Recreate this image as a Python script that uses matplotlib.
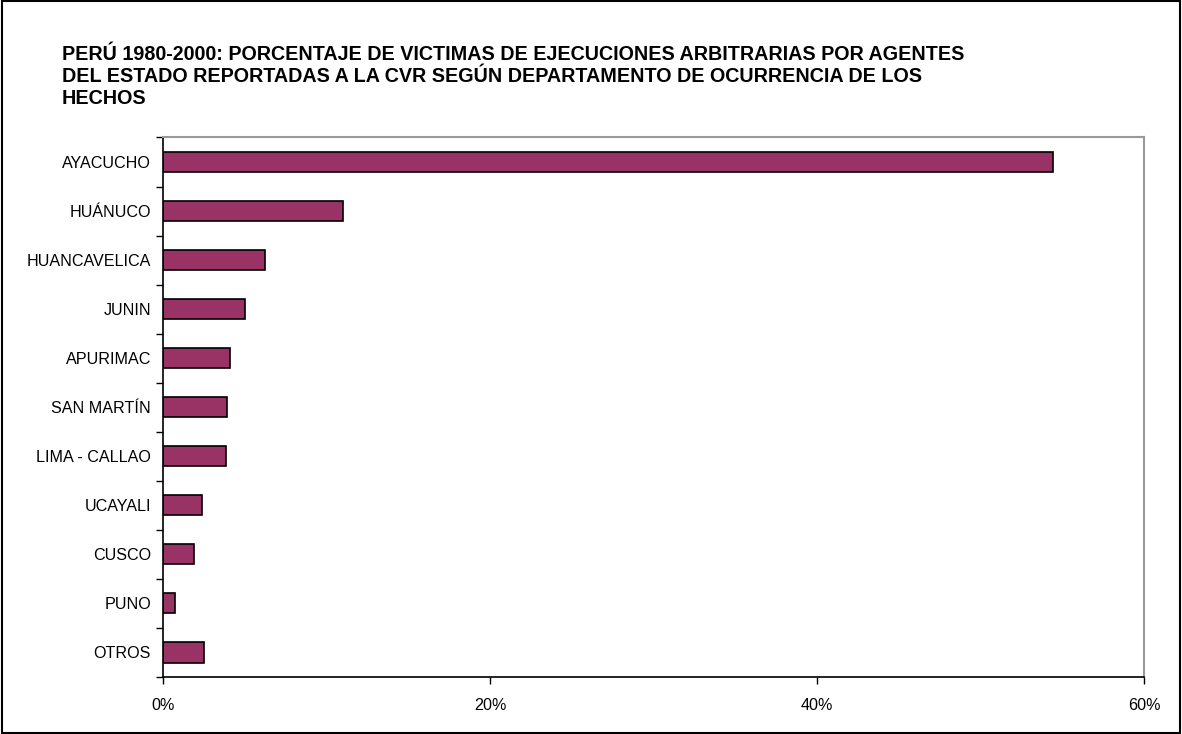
import matplotlib.pyplot as plt
from matplotlib.patches import Rectangle
from matplotlib.ticker import FuncFormatter

plt.rcParams['font.family'] = ['Liberation Sans', 'DejaVu Sans']

# Datos (porcentaje de víctimas)
departamentos = ['AYACUCHO', 'HUÁNUCO', 'HUANCAVELICA', 'JUNIN', 'APURIMAC',
                 'SAN MARTÍN', 'LIMA - CALLAO', 'UCAYALI', 'CUSCO', 'PUNO', 'OTROS']
porcentajes = [54.4, 11.0, 6.2, 5.0, 4.1, 3.9, 3.8, 2.35, 1.85, 0.72, 2.48]
ticks_x = [0, 20, 40, 60]

titulo = ('PERÚ 1980-2000: PORCENTAJE DE VICTIMAS DE EJECUCIONES ARBITRARIAS POR AGENTES\n'
          'DEL ESTADO REPORTADAS A LA CVR SEGÚN DEPARTAMENTO DE OCURRENCIA DE LOS\n'
          'HECHOS')

fig = plt.figure(figsize=(11.82, 7.34), dpi=100)
ax = fig.add_axes([0.1383, 0.0777, 0.8296, 0.735])

n = len(departamentos)
pos = list(range(n))
ax.barh(pos, porcentajes, height=0.41, color='#993366', edgecolor='black', linewidth=1.2)

ax.set_ylim(n - 0.5, -0.5)
ax.set_xlim(0, 60)

# marcas del eje Y en los límites entre categorías
ax.set_yticks([i - 0.5 for i in range(n + 1)])
ax.set_yticklabels([])
ax.set_yticks(pos, minor=True)
ax.set_yticklabels(departamentos, minor=True, fontsize=11.6)
ax.tick_params(axis='y', which='major', length=5, width=1, direction='out')
ax.tick_params(axis='y', which='minor', length=0, pad=9)

ax.set_xticks(ticks_x)
ax.xaxis.set_major_formatter(FuncFormatter(lambda v, p: f'{int(v)}%'))
ax.tick_params(axis='x', length=5, width=1, direction='out', labelsize=11.6, pad=10)

for lado in ['left', 'bottom']:
    ax.spines[lado].set_color('black')
    ax.spines[lado].set_linewidth(1.2)
for lado in ['top', 'right']:
    ax.spines[lado].set_color('#999999')
    ax.spines[lado].set_linewidth(1.5)

fig.text(62 / 1182, 1 - 45 / 734, titulo, fontsize=14.2, fontweight='bold',
         va='top', ha='left', linespacing=1.2)

fig.patches.append(Rectangle((0.002, 0.002), 0.996, 0.996, transform=fig.transFigure,
                             fill=False, edgecolor='black', linewidth=1.5))

fig.savefig('out.png', dpi=100)
